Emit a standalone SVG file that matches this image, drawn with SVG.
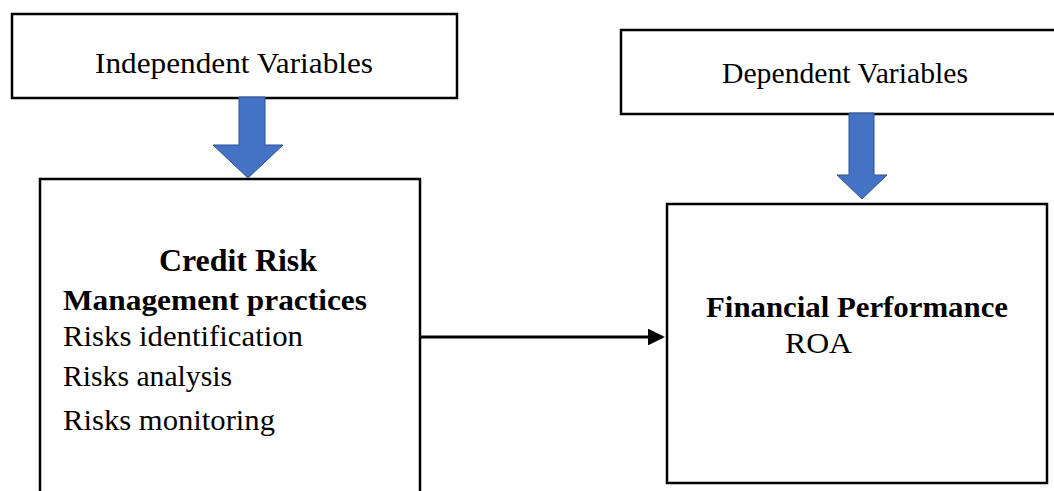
<svg xmlns="http://www.w3.org/2000/svg" width="1054" height="491" viewBox="0 0 1054 491">
<style>
.box{fill:#fff;stroke:#000;stroke-width:2.5}
.t{font-family:'Liberation Serif','Times New Roman',Times,serif;fill:#000}
.b{font-weight:bold}
.blue{fill:#4472C4;stroke:#2F528F;stroke-width:1}
</style>
<defs>
<marker id="ah" markerWidth="6" markerHeight="6" refX="5" refY="3" orient="auto" markerUnits="strokeWidth">
<path d="M0,0 L6,3 L0,6 z" fill="#000"/>
</marker>
</defs>
<rect width="1054" height="491" fill="#fff"/>
<g id="indep">
<rect class="box" x="12" y="14" width="445" height="84"/>
<text class="t" x="95" y="73" font-size="29" textLength="278" lengthAdjust="spacingAndGlyphs">Independent  Variables</text>
</g>
<g id="dep">
<rect class="box" x="621" y="30" width="450" height="84"/>
<text class="t" x="722" y="83" font-size="29" textLength="246" lengthAdjust="spacingAndGlyphs">Dependent Variables</text>
</g>
<g id="credit">
<rect class="box" x="40" y="179" width="380" height="330"/>
<text class="t b" x="159" y="271" font-size="31" textLength="158" lengthAdjust="spacingAndGlyphs">Credit  Risk</text>
<text class="t b" x="63" y="310" font-size="30" textLength="304" lengthAdjust="spacingAndGlyphs">Management practices</text>
<text class="t" x="63" y="346" font-size="29" textLength="240" lengthAdjust="spacingAndGlyphs">Risks  identification</text>
<text class="t" x="63" y="386" font-size="29" textLength="169" lengthAdjust="spacingAndGlyphs">Risks  analysis</text>
<text class="t" x="63" y="430" font-size="29" textLength="212" lengthAdjust="spacingAndGlyphs">Risks  monitoring</text>
</g>
<g id="fin">
<rect class="box" x="667" y="204" width="380" height="279"/>
<text class="t b" x="706" y="317" font-size="30" textLength="302" lengthAdjust="spacingAndGlyphs">Financial  Performance</text>
<text class="t" x="785" y="353" font-size="30" textLength="67" lengthAdjust="spacingAndGlyphs">ROA</text>
</g>
<g id="connectors">
<polygon class="blue" points="239,97 265,97 265,145 283,145 248,178 213,145 239,145"/>
<polygon class="blue" points="849,113 874,113 874,175 887,175 862,199 837,175 849,175"/>
<line x1="421" y1="337" x2="662" y2="337" stroke="#000" stroke-width="2.8" marker-end="url(#ah)"/>
</g>
</svg>
